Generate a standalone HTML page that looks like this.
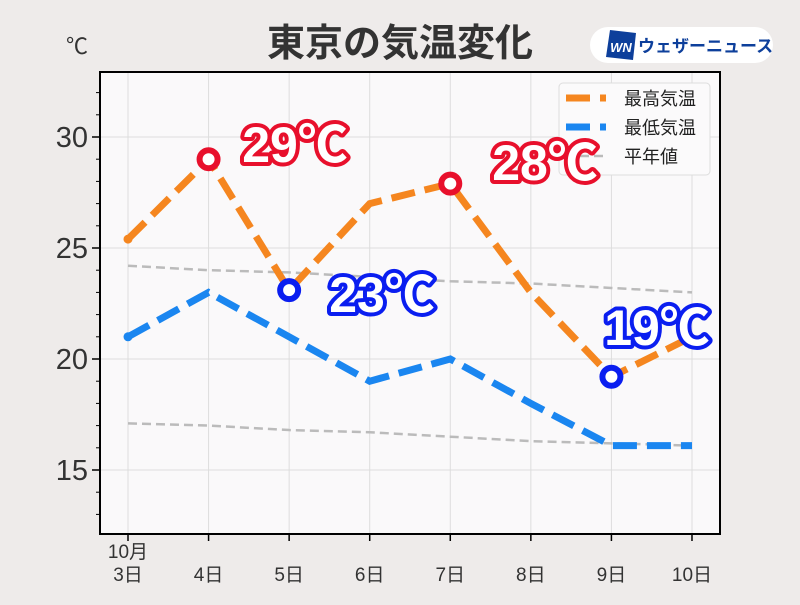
<!DOCTYPE html>
<html><head><meta charset="utf-8"><style>
body{margin:0;background:#eeebea;font-family:"Liberation Sans","Noto Sans CJK JP",sans-serif;}
svg text{font-family:"Liberation Sans","Noto Sans CJK JP",sans-serif;}
</style></head><body>
<svg id="chart" width="800" height="600" xmlns="http://www.w3.org/2000/svg">
<rect width="800" height="600" fill="#eeebea"/>
<text x="400" y="56" text-anchor="middle" font-size="38" font-weight="bold" fill="#333">東京の気温変化</text>
<g>
<rect x="590" y="27" width="183" height="36" rx="18" fill="#fff"/>
<polygon points="610,30 636,33 633,60 606,57" fill="#0d3f9b"/>
<text x="621" y="52" text-anchor="middle" font-size="13" font-weight="bold" font-style="italic" fill="#fff">WN</text>
<text x="638" y="52" font-size="17" fill="#0d3f9b" font-weight="bold">ウェザーニュース</text>
</g>
<text x="77" y="54" text-anchor="middle" font-size="22" fill="#333">℃</text>
<rect x="100" y="72" width="620" height="462" fill="#faf9fa"/>
<g id="grid"></g>
<g id="series"></g>
<rect x="100" y="72" width="620" height="462" fill="none" stroke="#000" stroke-width="2"/>
<g id="axes"></g>
<g>
<rect x="559" y="83" width="151" height="92" rx="4" fill="#fbfafb" stroke="#ddd"/>
<line x1="566" y1="98" x2="606" y2="98" stroke="#f5861f" stroke-width="7" stroke-dasharray="24,10"/>
<text x="624" y="105" font-size="18" fill="#222">最高気温</text>
<line x1="566" y1="127" x2="606" y2="127" stroke="#1a86f0" stroke-width="7" stroke-dasharray="24,10"/>
<text x="624" y="134" font-size="18" fill="#222">最低気温</text>
<line x1="566" y1="156" x2="606" y2="156" stroke="#bbb" stroke-width="2.5" stroke-dasharray="9,5"/>
<text x="624" y="163" font-size="18" fill="#222">平年値</text>
</g>
<g id="labels"></g>
</svg>
<script>
const categories=["3日","4日","5日","6日","7日","8日","9日","10日"];
const highs=[25.4,29.0,23.1,27.0,27.9,23.0,19.2,21.0];
const lows=[21.0,23.0,21.0,19.0,20.0,18.0,16.1,16.1];
const normalHigh=[24.2,24.0,23.9,23.7,23.5,23.4,23.2,23.0];
const normalLow=[17.1,17.0,16.8,16.7,16.5,16.3,16.2,16.1];
const yTicks=[15,20,25,30];
const markIdx=[1,2,4,6];
const markColor=["#e8102c","#0a1ef0","#e8102c","#0a1ef0"];
const markText=["29℃","23℃","28℃","19℃"];
const NS="http://www.w3.org/2000/svg";
const X=i=>128+i*80.57;
const Y=v=>137+(30-v)*22.2;
function mk(t,a,p){const e=document.createElementNS(NS,t);for(const k in a)e.setAttribute(k,a[k]);p.appendChild(e);return e;}
const grid=document.getElementById('grid'),axes=document.getElementById('axes'),ser=document.getElementById('series'),lab=document.getElementById('labels');
categories.forEach((c,i)=>{
 const g=mk('line',{x1:X(i),x2:X(i),y1:72,y2:534,stroke:'#ddd','stroke-width':1},grid);
 
 mk('line',{x1:X(i),x2:X(i),y1:534,y2:541,stroke:'#000','stroke-width':1.5},axes);
 const t=mk('text',{x:X(i),y:581,'text-anchor':'middle','font-size':19,fill:'#333'},axes);t.textContent=c;
 
});
const mt=mk('text',{x:X(0),y:558,'text-anchor':'middle','font-size':19,fill:'#333'},axes);mt.textContent="10月";

yTicks.forEach(v=>{
 const g=mk('line',{x1:100,x2:720,y1:Y(v),y2:Y(v),stroke:'#ddd','stroke-width':1},grid);
 
 mk('line',{x1:92,x2:100,y1:Y(v),y2:Y(v),stroke:'#000','stroke-width':1.5},axes);
 const t=mk('text',{x:88,y:Y(v)+10,'text-anchor':'end','font-size':29,fill:'#333'},axes);t.textContent=v;
 
});
for(let v=13;v<=32;v++){if(v%5)mk('line',{x1:96,x2:100,y1:Y(v),y2:Y(v),stroke:'#000','stroke-width':1},axes);}
function line(d,col,w,dash,name){
 const p=mk('polyline',{points:d.map((v,i)=>X(i)+','+Y(v)).join(' '),fill:'none',stroke:col,'stroke-width':w,'stroke-dasharray':dash},ser);
 
}
line(normalHigh,'#bbb',2.5,'9,5','normal-high-line');
line(normalLow,'#bbb',2.5,'9,5','normal-low-line');
line(lows,'#1a86f0',7,'24,10','low-temp-line');
line(highs,'#f5861f',7,'24,10','high-temp-line');
mk('circle',{cx:X(0),cy:Y(highs[0]),r:4.5,fill:'#f5861f'},ser);
mk('circle',{cx:X(0),cy:Y(lows[0]),r:4.5,fill:'#1a86f0'},ser);
markIdx.forEach((i,k)=>{
 const c=mk('circle',{cx:X(i),cy:Y(highs[i]),r:9,fill:'#fff',stroke:markColor[k],'stroke-width':6},lab);
 
});
const lx=[295,382,545,657],ly=[162,312,180,345];
markIdx.forEach((i,k)=>{
 const t=mk('text',{x:lx[k],y:ly[k],'text-anchor':'middle','font-size':50,'font-weight':'bold',fill:'#fff',stroke:markColor[k],'stroke-width':8,'paint-order':'stroke','stroke-linejoin':'round'},lab);
 t.textContent=markText[k];
 
});
</script>
</body></html>
